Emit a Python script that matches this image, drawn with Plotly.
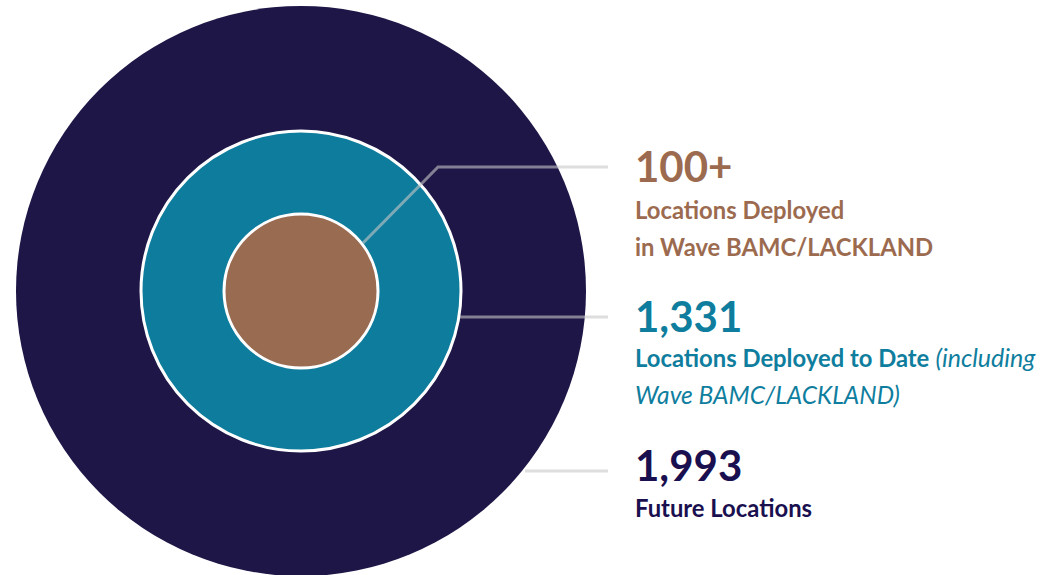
import plotly.graph_objects as go

# ---- data ----
categories = ["Wave BAMC/LACKLAND", "Deployed to Date", "Future Locations"]
value_labels = ["100+", "1,331", "1,993"]
desc_lines = [
    ["<b>Locations Deployed</b>", "<b>in Wave BAMC/LACKLAND</b>"],
    ["<b>Locations Deployed to Date</b> <span style='font-size:25px'><i>(including</i></span>",
     "<span style='font-size:24.5px'><i>Wave BAMC/LACKLAND)</i></span>"],
    ["<b>Future Locations</b>"],
]

# ---- styles ----
circle_colors = ["#996C51", "#0E7C9C", "#1E1646"]
text_colors = ["#9C6B4F", "#0F7E9E", "#1A1050"]
W, H = 1055, 575
cx, cy = 301, 291
radii = [77, 160, 285]          # inner, middle, outer (pixels)
borders = [3, 3, 0]
line_col = "rgba(200,200,200,0.6)"
FONT = "Lato"

fig = go.Figure()
shapes = []
for i in [2, 1, 0]:
    r = radii[i]
    shapes.append(dict(
        type="circle", xref="x", yref="y",
        x0=cx - r, x1=cx + r, y0=cy - r, y1=cy + r,
        fillcolor=circle_colors[i],
        line=dict(color="white", width=borders[i]) if borders[i] else dict(width=0),
        layer="below",
    ))

leaders = [
    [(363, 243), (438, 167), (608, 167)],
    [(460, 317), (608, 317)],
    [(525, 471), (608, 471)],
]
for pts in leaders:
    fig.add_trace(go.Scatter(
        x=[p[0] for p in pts], y=[p[1] for p in pts], mode="lines",
        line=dict(color=line_col, width=3), hoverinfo="skip", showlegend=False,
    ))

annotations = []
text_x = 633
big_y = [166, 316, 465]
sub_y0 = [210, 357, 508]
line_gap = 37
for i in range(3):
    annotations.append(dict(
        x=text_x, y=big_y[i], xref="x", yref="y", xanchor="left", yanchor="middle",
        text="<b>" + value_labels[i] + "</b>", showarrow=False,
        font=dict(family=FONT, size=42, color=text_colors[i]),
    ))
    for j, ln in enumerate(desc_lines[i]):
        annotations.append(dict(
            x=text_x, y=sub_y0[i] + j * line_gap, xref="x", yref="y",
            xanchor="left", yanchor="middle", text=ln, showarrow=False,
            font=dict(family=FONT, size=23.8, color=text_colors[i]),
        ))

fig.update_layout(
    width=W, height=H, margin=dict(l=0, r=0, t=0, b=0),
    paper_bgcolor="white", plot_bgcolor="white",
    xaxis=dict(range=[0, W], visible=False, fixedrange=True),
    yaxis=dict(range=[H, 0], visible=False, fixedrange=True),
    shapes=shapes, annotations=annotations, showlegend=False,
)
fig.write_html("out.html", config={"displayModeBar": False})
